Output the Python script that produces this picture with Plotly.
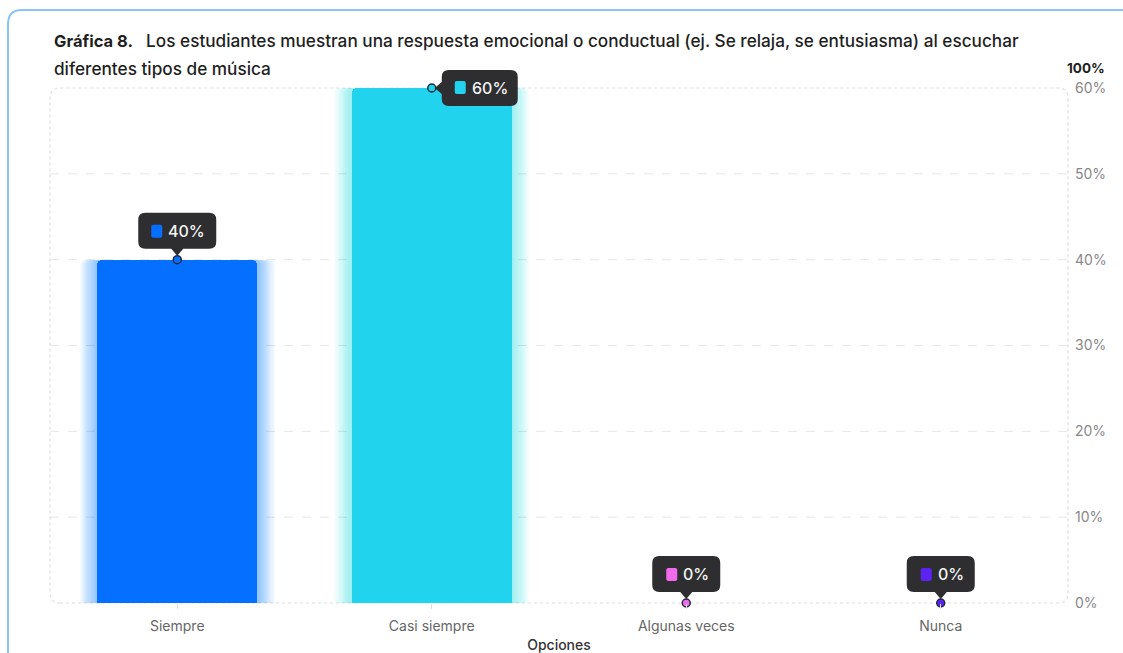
import plotly.graph_objects as go

categories = ["Siempre", "Casi siempre", "Algunas veces", "Nunca"]
values = [40, 60, 0, 0]
labels = ["40%", "60%", "0%", "0%"]
colors = ["#0570FF", "#22D3EE", "#F06BEB", "#5B24F2"]
glow_rgb = ["5,112,255", "34,211,238", "240,107,235", "91,36,242"]
y_ticks = [0, 10, 20, 30, 40, 50, 60]
y_ticktext = ["0%", "10%", "20%", "30%", "40%", "50%", "60%"]

W, H = 1123, 653
L, R, T, B = 50, 55, 88, 50
PW, PH = W - L - R, H - T - B
FONT = "Inter"
X_RANGE = [-0.5, 3.5]
Y_RANGE = [0, 60]


def px2paper(px, py):
    return (px - L) / PW, (H - B - py) / PH


def rr(x0, x1, y0, y1, r, pointer=None):
    # y0 bottom, y1 top (pixel offsets, positive upward)
    p = f"M {x0 + r},{y0} "
    if pointer == "down":
        p += f"L -6,{y0} L 0,{y0 - 7} L 6,{y0} "
    p += f"L {x1 - r},{y0} Q {x1},{y0} {x1},{y0 + r} L {x1},{y1 - r} Q {x1},{y1} {x1 - r},{y1} "
    p += f"L {x0 + r},{y1} Q {x0},{y1} {x0},{y1 - r} "
    if pointer == "left":
        p += f"L {x0},6 L {x0 - 7},0 L {x0},-6 "
    p += f"L {x0},{y0 + r} Q {x0},{y0} {x0 + r},{y0} Z"
    return p


fig = go.Figure()

# soft glow layers
n_glow = 16
for k in range(n_glow, 0, -1):
    w = 0.63 + 0.0085 * k
    fig.add_trace(go.Bar(
        x=categories, y=values, width=w,
        marker=dict(color=[f"rgba({g},0.03)" for g in glow_rgb], line=dict(width=0)),
        hoverinfo="skip", showlegend=False,
    ))

fig.add_trace(go.Bar(
    x=categories, y=values, width=0.63,
    marker=dict(color=colors, line=dict(width=0)),
    hoverinfo="skip", showlegend=False,
))

shapes = []
annotations = []

# grid lines (inner)
for t in y_ticks[1:-1]:
    shapes.append(dict(type="line", xref="paper", yref="y", x0=0, x1=1, y0=t, y1=t,
                       line=dict(color="#e6e6e6", width=1, dash="dash"), layer="below"))

# plot area dashed rounded border
rx, ry = 10 / PW, 10 / PH
shapes.append(dict(
    type="path", xref="paper", yref="paper", layer="below",
    path=(f"M {rx},0 L {1 - rx},0 Q 1,0 1,{ry} L 1,{1 - ry} Q 1,1 {1 - rx},1 "
          f"L {rx},1 Q 0,1 0,{1 - ry} L 0,{ry} Q 0,0 {rx},0 Z"),
    line=dict(color="#dddddd", width=1.2, dash="dot"),
))

# card border
cx0, cyt = px2paper(8, 10)
_, cyb = px2paper(8, 700)
cxr, _ = px2paper(1140, 10)
crx, cry = 14 / PW, 14 / PH
shapes.append(dict(
    type="path", xref="paper", yref="paper",
    path=f"M {cx0},{cyb} L {cx0},{cyt - cry} Q {cx0},{cyt} {cx0 + crx},{cyt} L {cxr},{cyt}",
    line=dict(color="#8CC2FF", width=2),
))

# tooltips (anchored in paper space via the axis ranges so they are not clipped)
for i, (cat, v, lab, col) in enumerate(zip(categories, values, labels, colors)):
    ax = (i - X_RANGE[0]) / (X_RANGE[1] - X_RANGE[0])
    ay = (v - Y_RANGE[0]) / (Y_RANGE[1] - Y_RANGE[0])
    base = dict(xref="paper", yref="paper", xsizemode="pixel", ysizemode="pixel",
                xanchor=ax, yanchor=ay)
    if i == 1:
        bx0, bx1, by0, by1 = 10, 86, -18, 18
        sq = (23, 34, -6, 7)
        tx, ty = 58, 0
        ptr = "left"
    elif v > 0:
        bx0, bx1, by0, by1 = -39, 39, 11, 47
        sq = (-26, -15, 22, 35)
        tx, ty = 9, 29
        ptr = "down"
    else:
        bx0, bx1, by0, by1 = -34, 34, 11, 47
        sq = (-20, -9, 22, 35)
        tx, ty = 10, 29
        ptr = "down"
    shapes.append(dict(type="path", path=rr(bx0, bx1, by0, by1, 7, ptr),
                       fillcolor="#2E2E30", line=dict(width=0), **base))
    shapes.append(dict(type="path", path=rr(sq[0], sq[1], sq[2], sq[3], 2),
                       fillcolor=col, line=dict(width=0), **base))
    annotations.append(dict(x=ax, y=ay, xref="paper", yref="paper", text=lab, showarrow=False,
                            xanchor="center", yanchor="middle",
                            xshift=tx, yshift=ty,
                            font=dict(family=FONT, size=16, color="#F2F2F2", weight=500)))

fig.add_trace(go.Scatter(
    x=categories, y=values, mode="markers",
    marker=dict(size=8, color=colors, line=dict(color="#1E2A3A", width=1.5)),
    hoverinfo="skip", showlegend=False, cliponaxis=False,
))

# title lines
tx0, ty1 = px2paper(52, 40)
_, ty2 = px2paper(52, 68)
annotations.append(dict(
    xref="paper", yref="paper", x=tx0, y=ty1, xanchor="left", yanchor="middle", showarrow=False,
    text=("<b>Gráfica 8.</b>   <span style='font-size:17.2px'>Los estudiantes muestran una respuesta "
          "emocional o conductual (ej. Se relaja, se entusiasma) al escuchar</span>"),
    font=dict(family=FONT, size=16.5, color="#1f1f1f", weight=500)))
annotations.append(dict(xref="paper", yref="paper", x=tx0, y=ty2, xanchor="left", yanchor="middle",
                        showarrow=False, text="diferentes tipos de música",
                        font=dict(family=FONT, size=17.2, color="#1f1f1f", weight=500)))
hx, hy = px2paper(1107, 68)
annotations.append(dict(xref="paper", yref="paper", x=hx, y=hy, xanchor="right", yanchor="middle",
                        showarrow=False, text="<b>100%</b>",
                        font=dict(family=FONT, size=13.5, color="#222222")))

fig.update_layout(
    width=W, height=H,
    margin=dict(l=L, r=R, t=T, b=B, autoexpand=False),
    paper_bgcolor="white", plot_bgcolor="white",
    barmode="overlay", bargap=0,
    barcornerradius=5,
    showlegend=False,
    shapes=shapes, annotations=annotations,
    font=dict(family=FONT),
    xaxis=dict(
        range=X_RANGE, showgrid=False, zeroline=False, showline=False, automargin=False,
        ticks="outside", ticklen=5, tickcolor="#e0e0e0", ticklabelstandoff=5,
        tickfont=dict(family=FONT, size=14, color="#666666"),
        title=dict(text="Opciones", font=dict(family=FONT, size=14, color="#333333", weight=500),
                   standoff=18),
    ),
    yaxis=dict(
        side="right", range=Y_RANGE, tickvals=y_ticks, ticktext=y_ticktext, automargin=False,
        showgrid=False, zeroline=False, showline=False, ticklabelstandoff=6,
        tickfont=dict(family=FONT, size=14, color="#888888"),
    ),
)

fig.write_html("out.html")
